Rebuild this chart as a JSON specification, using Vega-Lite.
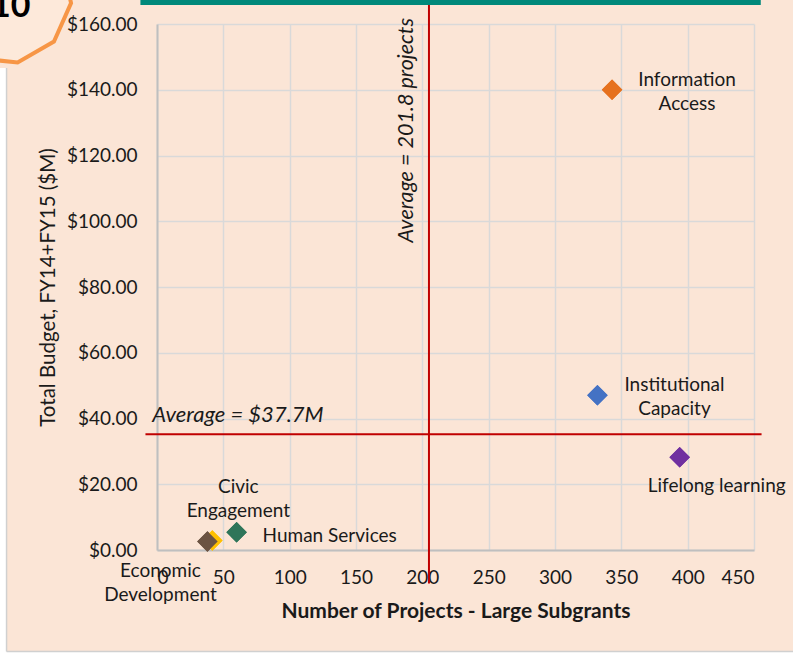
{
  "$schema": "https://vega.github.io/schema/vega-lite/v6.json",
  "autosize": {"type": "none"},
  "width": 597,
  "height": 526,
  "padding": {"left": 157, "top": 24, "right": 39, "bottom": 103},
  "background": "#FBE5D6",
  "data": {"values": [{"d": 1}]},
  "config": {
    "view": {"stroke": null},
    "font": "Lato",
    "axis": {
      "grid": true,
      "labelFont": "Lato",
      "titleFont": "Lato",
      "labelColor": "#1a1a1a",
      "titleColor": "#1a1a1a",
      "labelFontSize": 19,
      "titleFontSize": 20.5,
      "gridColor": "#D9D9D9",
      "gridWidth": 1.5,
      "domainColor": "#BFBFBF",
      "domainWidth": 2,
      "ticks": false
    }
  },
  "datasets": {
    "points": [
      {"area": "Information Access", "projects": 343, "budget": 140.0},
      {"area": "Institutional Capacity", "projects": 332, "budget": 47.1},
      {"area": "Lifelong learning", "projects": 394, "budget": 28.2},
      {"area": "Human Services", "projects": 60, "budget": 5.4},
      {"area": "Civic Engagement", "projects": 41.7, "budget": 2.9},
      {"area": "Economic Development", "projects": 38, "budget": 2.6}
    ]
  },
  "layer": [
    {
      "data": {"name": "points"},
      "mark": {"type": "point", "shape": "diamond", "filled": true, "size": 420, "opacity": 1},
      "encoding": {
        "x": {
          "field": "projects",
          "type": "quantitative",
          "title": "Number of Projects - Large Subgrants",
          "scale": {"domain": [0, 450], "nice": false, "zero": false},
          "axis": {"values": [0, 50, 100, 150, 200, 250, 300, 350, 400, 450], "labelPadding": 18, "titlePadding": 13, "titleFontWeight": "bold", "titleFontSize": 21, "grid": true}
        },
        "y": {
          "field": "budget",
          "type": "quantitative",
          "title": "Total Budget, FY14+FY15 ($M)",
          "scale": {"domain": [0, 160], "nice": false},
          "axis": {"values": [0, 20, 40, 60, 80, 100, 120, 140, 160], "format": "$,.2f", "labelPadding": 20, "titlePadding": 8, "titleFontWeight": "normal", "grid": true}
        },
        "color": {
          "field": "area",
          "type": "nominal",
          "legend": null,
          "scale": {
            "domain": ["Information Access", "Institutional Capacity", "Lifelong learning", "Human Services", "Civic Engagement", "Economic Development"],
            "range": ["#E6711E", "#4472C4", "#7030A0", "#2E7559", "#FFC000", "#6B5342"]
          }
        }
      }
    },
    {
      "mark": {"type": "rect", "fill": "#FFFFFF"},
      "encoding": {
        "x": {"datum": -121.7, "type": "quantitative"},
        "x2": {"datum": -113.4},
        "y": {"datum": 146.6, "type": "quantitative"},
        "y2": {"datum": -40}
      }
    },
    {
      "mark": {"type": "rect", "fill": "#FFFFFF"},
      "encoding": {
        "x": {"datum": -121.7, "type": "quantitative"},
        "x2": {"datum": 490},
        "y": {"datum": -30.9, "type": "quantitative"},
        "y2": {"datum": -40}
      }
    },
    {
      "mark": {"type": "rule", "color": "#D0D0D0", "strokeWidth": 1.5},
      "encoding": {
        "x": {"datum": -113.4, "type": "quantitative"},
        "y": {"datum": 146.6, "type": "quantitative"},
        "y2": {"datum": -30.9}
      }
    },
    {
      "mark": {"type": "rule", "color": "#D0D0D0", "strokeWidth": 1.5},
      "encoding": {
        "x": {"datum": -113.4, "type": "quantitative"},
        "x2": {"datum": 490},
        "y": {"datum": -30.9, "type": "quantitative"}
      }
    },
    {
      "mark": {"type": "rect", "fill": "#00897B"},
      "encoding": {
        "x": {"datum": -12.5, "type": "quantitative"},
        "x2": {"datum": 455.1},
        "y": {"datum": 170, "type": "quantitative"},
        "y2": {"datum": 165.8}
      }
    },
    {
      "mark": {
        "type": "point",
        "filled": true,
        "shape": "M0.9945,0.1045L0.7431,0.6691L0.2079,0.9781L-0.4067,0.9135L-0.866,0.5L-0.9945,-0.1045L-0.7431,-0.6691L-0.2079,-0.9781L0.4067,-0.9135L0.866,-0.5Z",
        "size": 18442,
        "fill": "#FDE9DA",
        "stroke": "#F79646",
        "strokeWidth": 4,
        "opacity": 1
      },
      "encoding": {
        "x": {"datum": -115.7, "type": "quantitative"},
        "y": {"datum": 168.5, "type": "quantitative"}
      }
    },
    {
      "mark": {"type": "text", "text": "10", "fontSize": 34, "fontWeight": "bold", "align": "right", "baseline": "alphabetic", "color": "#000000"},
      "encoding": {
        "x": {"datum": -95.3, "type": "quantitative"},
        "y": {"datum": 162.1, "type": "quantitative"}
      }
    },
    {
      "mark": {"type": "rule", "color": "#C00000", "strokeWidth": 2},
      "encoding": {
        "x": {"datum": 205, "type": "quantitative"},
        "y": {"datum": 165.8, "type": "quantitative"},
        "y2": {"datum": -10.2}
      }
    },
    {
      "mark": {"type": "rule", "color": "#C00000", "strokeWidth": 2},
      "encoding": {
        "x": {"datum": -8.7, "type": "quantitative"},
        "x2": {"datum": 455.7},
        "y": {"datum": 35.2, "type": "quantitative"}
      }
    },
    {
      "data": {"name": "points"},
      "mark": {"type": "point", "shape": "diamond", "filled": true, "size": 420, "opacity": 1},
      "encoding": {
        "x": {"field": "projects", "type": "quantitative"},
        "y": {"field": "budget", "type": "quantitative"},
        "color": {"field": "area", "type": "nominal", "legend": null}
      }
    },
    {
      "data": {"name": "points"},
      "transform": [{"filter": "datum.area == 'Information Access'"}],
      "mark": {"type": "text", "fontSize": 19, "align": "center", "baseline": "middle", "dx": 75, "dy": -10, "lineBreak": "\n", "lineHeight": 24, "color": "#1a1a1a"},
      "encoding": {
        "x": {"field": "projects", "type": "quantitative"},
        "y": {"field": "budget", "type": "quantitative"},
        "text": {"value": "Information\nAccess"}
      }
    },
    {
      "data": {"name": "points"},
      "transform": [{"filter": "datum.area == 'Institutional Capacity'"}],
      "mark": {"type": "text", "fontSize": 19, "align": "center", "baseline": "middle", "dx": 77, "dy": -10, "lineBreak": "\n", "lineHeight": 24, "color": "#1a1a1a"},
      "encoding": {
        "x": {"field": "projects", "type": "quantitative"},
        "y": {"field": "budget", "type": "quantitative"},
        "text": {"value": "Institutional\nCapacity"}
      }
    },
    {
      "data": {"name": "points"},
      "transform": [{"filter": "datum.area == 'Lifelong learning'"}],
      "mark": {"type": "text", "fontSize": 19, "align": "center", "baseline": "middle", "dx": 37, "dy": 29, "color": "#1a1a1a"},
      "encoding": {
        "x": {"field": "projects", "type": "quantitative"},
        "y": {"field": "budget", "type": "quantitative"},
        "text": {"field": "area"}
      }
    },
    {
      "data": {"name": "points"},
      "transform": [{"filter": "datum.area == 'Human Services'"}],
      "mark": {"type": "text", "fontSize": 19, "align": "left", "baseline": "middle", "dx": 26, "dy": 4, "color": "#1a1a1a"},
      "encoding": {
        "x": {"field": "projects", "type": "quantitative"},
        "y": {"field": "budget", "type": "quantitative"},
        "text": {"field": "area"}
      }
    },
    {
      "data": {"name": "points"},
      "transform": [{"filter": "datum.area == 'Civic Engagement'"}],
      "mark": {"type": "text", "fontSize": 19, "align": "center", "baseline": "middle", "dx": 26, "dy": -53, "lineBreak": "\n", "lineHeight": 24, "color": "#1a1a1a"},
      "encoding": {
        "x": {"field": "projects", "type": "quantitative"},
        "y": {"field": "budget", "type": "quantitative"},
        "text": {"value": "Civic\nEngagement"}
      }
    },
    {
      "data": {"name": "points"},
      "transform": [{"filter": "datum.area == 'Economic Development'"}],
      "mark": {"type": "text", "fontSize": 19, "align": "center", "baseline": "middle", "dx": -47, "dy": 30, "lineBreak": "\n", "lineHeight": 24, "color": "#1a1a1a"},
      "encoding": {
        "x": {"field": "projects", "type": "quantitative"},
        "y": {"field": "budget", "type": "quantitative"},
        "text": {"value": "Economic\nDevelopment"}
      }
    },
    {
      "mark": {"type": "text", "text": "Average = 201.8 projects", "fontSize": 21.5, "fontStyle": "italic", "angle": 270, "align": "center", "baseline": "middle", "color": "#1a1a1a"},
      "encoding": {
        "x": {"datum": 188.5, "type": "quantitative"},
        "y": {"datum": 127.7, "type": "quantitative"}
      }
    },
    {
      "mark": {"type": "text", "text": "Average = $37.7M", "fontSize": 22, "fontStyle": "italic", "align": "left", "baseline": "middle", "color": "#1a1a1a"},
      "encoding": {
        "x": {"datum": -3.5, "type": "quantitative"},
        "y": {"datum": 41.0, "type": "quantitative"}
      }
    }
  ]
}
